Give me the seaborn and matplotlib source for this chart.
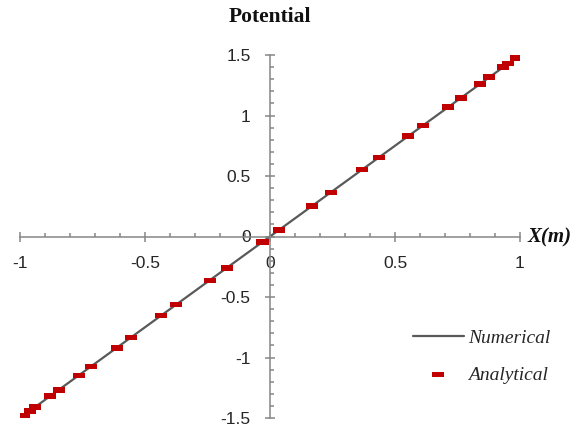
import numpy as np
import pandas as pd
import seaborn as sns
import matplotlib
matplotlib.use("Agg")
import matplotlib.pyplot as plt
from matplotlib.ticker import MultipleLocator, FixedLocator

# ---- data ----
numerical_x = [-1.0, 1.0]
numerical_y = [-1.5, 1.5]
analytical_x = [-0.985, -0.96, -0.94, -0.88, -0.845, -0.765, -0.716, -0.613, -0.556,
                -0.436, -0.375, -0.241, -0.172, -0.03, 0.036, 0.169, 0.243, 0.369,
                0.436, 0.553, 0.611, 0.713, 0.764, 0.84, 0.877, 0.933, 0.953, 0.984]
analytical_y = [-1.478, -1.44, -1.41, -1.32, -1.268, -1.148, -1.074, -0.92, -0.834,
                -0.654, -0.563, -0.362, -0.258, -0.045, 0.054, 0.254, 0.365, 0.554,
                0.654, 0.83, 0.917, 1.07, 1.146, 1.26, 1.316, 1.4, 1.43, 1.476]
x_ticks = [-1, -0.5, 0, 0.5, 1]
x_tick_labels = ["-1", "-0.5", "0", "0.5", "1"]
y_ticks = [-1.5, -1, -0.5, 0, 0.5, 1, 1.5]
y_tick_labels = ["-1.5", "-1", "-0.5", "0", "0.5", "1", "1.5"]

sns.set_style("white")
plt.rcParams['font.family'] = ['Liberation Sans', 'DejaVu Sans']

W, H = 583, 430
fig = plt.figure(figsize=(W / 100, H / 100), dpi=100)
ax = fig.add_axes([20 / W, 1 - 418 / H, 500 / W, 363 / H])

num_df = pd.DataFrame({"x": numerical_x, "y": numerical_y})
ana_df = pd.DataFrame({"x": analytical_x, "y": analytical_y})

sns.lineplot(data=num_df, x="x", y="y", ax=ax, color="#595959", linewidth=1.6,
             label="Numerical", sort=False, zorder=2)
dash = [(-1, -0.45), (1, -0.45), (1, 0.45), (-1, 0.45), (-1, -0.45)]
sns.scatterplot(data=ana_df, x="x", y="y", ax=ax, marker=dash, s=80,
                color="#C00000", edgecolor="none", linewidth=0,
                label="Analytical", zorder=3)

ax.set_xlim(-1, 1)
ax.set_ylim(-1.5, 1.5)
ax.set_xlabel("")
ax.set_ylabel("")

for s in ["top", "right"]:
    ax.spines[s].set_visible(False)
for s in ["left", "bottom"]:
    ax.spines[s].set_position("zero")
    ax.spines[s].set_color("#868686")
    ax.spines[s].set_linewidth(1.1)

ax.xaxis.set_major_locator(FixedLocator(x_ticks))
ax.set_xticklabels(x_tick_labels)
ax.yaxis.set_major_locator(FixedLocator(y_ticks))
ax.set_yticklabels(y_tick_labels)
ax.xaxis.set_minor_locator(MultipleLocator(0.1))
ax.yaxis.set_minor_locator(MultipleLocator(0.1))
ax.tick_params(which="major", direction="inout", length=7, width=1.1,
               color="#868686", labelsize=12.5, labelcolor="#262626", pad=10.5)
ax.tick_params(which="minor", direction="in", length=3, width=1.1, color="#868686")
ax.tick_params(axis="x", which="both", bottom=True)
ax.tick_params(axis="y", which="both", left=True)

fig.text(270 / W, 1 - 17 / H, "Potential", ha="center", va="center",
         fontsize=15.5, fontweight="bold", family=["Liberation Serif"], color="#111111")
fig.text(528 / W, 1 - 237 / H, "X(m)", ha="left", va="center",
         fontsize=15, fontweight="bold", style="italic",
         family=["Liberation Serif"], color="#111111")

leg = ax.legend(loc="upper left", bbox_to_anchor=(413 / W, 1 - 329 / H),
                bbox_transform=fig.transFigure, frameon=False,
                prop={"family": "Liberation Serif", "style": "italic", "size": 14},
                handlelength=2.6, handletextpad=0.25, labelspacing=1.0,
                borderpad=0, borderaxespad=0)
for t in leg.get_texts():
    t.set_color("#262626")

fig.savefig("out.png", dpi=100)
